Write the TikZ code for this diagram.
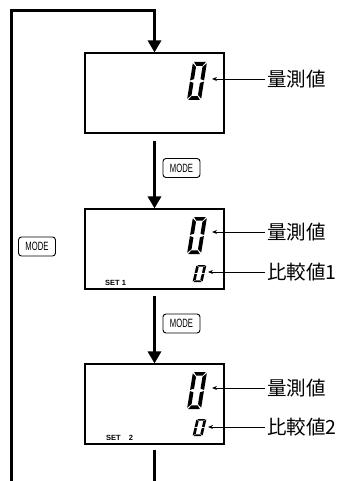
\documentclass[tikz,border=0pt]{standalone}
\usepackage{fontspec}
\setmainfont{Liberation Sans}
\newfontfamily\jpfont{Noto Sans CJK JP}
\usetikzlibrary{arrows.meta}
\newcommand\segzero[5]{% x0 y0(bottom-left) W H slant
  \begin{scope}[shift={(#1,#2)}, x={(#3pt,0pt)}, y={(0.5*#5pt,0.5*#4pt)}]
    \fill (0.08,2) -- (0.92,2) -- (0.72,1.8) -- (0.28,1.8) -- cycle;
    \fill (0.08,0) -- (0.92,0) -- (0.72,0.2) -- (0.28,0.2) -- cycle;
    \fill (0,1.93) -- (0.27,1.74) -- (0.27,1.1) -- (0,1.03) -- cycle;
    \fill (1,1.93) -- (0.73,1.74) -- (0.73,1.1) -- (1,1.03) -- cycle;
    \fill (0,0.97) -- (0.27,0.9) -- (0.27,0.26) -- (0,0.07) -- cycle;
    \fill (1,0.97) -- (0.73,0.9) -- (0.73,0.26) -- (1,0.07) -- cycle;
  \end{scope}}
\begin{document}
\begin{tikzpicture}[x=1pt,y=-1pt,
  box/.style={draw,line width=1.1pt,minimum width=139pt,minimum height=80pt,inner sep=0pt},
  mainarrow/.style={line width=3pt,-{Triangle[length=12pt,width=13pt]}},
  mainline/.style={line width=3pt},
  lbl/.style={line width=0.8pt,-{Stealth[length=5pt,width=4pt]}},
  lbltext/.style={anchor=west,inner sep=0pt,font=\jpfont\fontsize{19.5}{19.5}\selectfont},
  modebtn/.style={draw,rounded corners=3pt,line width=0.9pt,minimum width=37pt,minimum height=19pt,inner sep=0pt,
     font=\fontsize{12}{12}\selectfont},
  settext/.style={anchor=base west,inner sep=0pt,font=\bfseries\fontsize{7.5}{7.5}\selectfont}]
\useasboundingbox (0,0) rectangle (338,481);

\node[box] (b1) at (154.5,93) {};
\node[box] (b2) at (154.5,249) {};
\node[box] (b3) at (154.5,404) {};

\coordinate (bl) at (11.7,481);
\coordinate (tl) at (11.7,11);
\coordinate (tr) at (154.5,11);
\coordinate (bb) at (154.5,481);

\draw[mainarrow,line join=miter] (bl) -- (tl) -- (tr) -- (b1.north);
\draw[mainarrow] ([yshift=-7pt]b1.south) -- (b2.north);
\draw[mainarrow] ([yshift=-6pt]b2.south) -- (b3.north);
\draw[mainline] ([yshift=-5pt]b3.south) -- (bb);

\node[modebtn] (m1) at (181.5,168) {\scalebox{0.64}[1]{MODE}};
\node[modebtn] (m0) at (37,246.5) {\scalebox{0.64}[1]{MODE}};
\node[modebtn] (m2) at (181.5,323.5) {\scalebox{0.64}[1]{MODE}};

% digits
\segzero{187}{100}{14}{38}{6}
\segzero{187}{254}{14}{37}{6}
\segzero{192.5}{282}{10}{17}{4}
\segzero{187}{409}{14}{37}{6}
\segzero{192.5}{436}{10}{17}{4}

\node[settext] (s1) at (105,285.5) {SET 1};
\node[settext] (s2) at (106,440) {SET\hspace{8pt}2};

% labels
\node[lbltext] (l1) at (267,79) {量測値};
\node[lbltext] (l2) at (267,232) {量測値};
\node[lbltext] (l3) at (267,272) {比較値1};
\node[lbltext] (l4) at (267,388) {量測値};
\node[lbltext] (l5) at (267,427) {比較値2};

\coordinate (t1) at (212,79);
\coordinate (t2) at (212,232);
\coordinate (t3) at (208,272);
\coordinate (t4) at (212,388);
\coordinate (t5) at (208,427);

\draw[lbl] ([xshift=-2pt]l1.west) -- (t1);
\draw[lbl] ([xshift=-2pt]l2.west) -- (t2);
\draw[lbl] ([xshift=-2pt]l3.west) -- (t3);
\draw[lbl] ([xshift=-2pt]l4.west) -- (t4);
\draw[lbl] ([xshift=-2pt]l5.west) -- (t5);
\end{tikzpicture}
\end{document}
